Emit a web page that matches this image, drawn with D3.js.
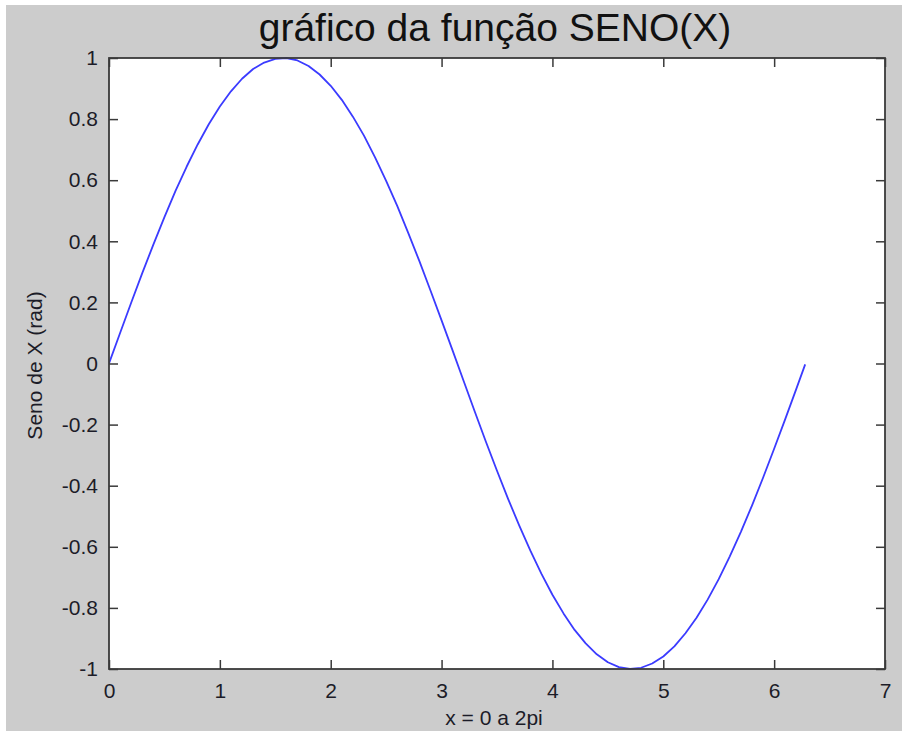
<!DOCTYPE html>
<html>
<head>
<meta charset="utf-8">
<script src="https://cdn.jsdelivr.net/npm/d3@7/dist/d3.min.js"></script>
<style>
  html, body { margin: 0; padding: 0; background: #ffffff; }
  svg { display: block; font-family: "Liberation Sans", Arial, sans-serif; }
</style>
</head>
<body>
<svg id="chart" width="902" height="731"></svg>
<script>
// sampled sine curve over [0, 2π]
const xValues = [0, 0.1, 0.2, 0.3, 0.4, 0.5, 0.6, 0.7, 0.8, 0.9, 1.0, 1.1, 1.2, 1.3, 1.4, 1.5,
                 1.6, 1.7, 1.8, 1.9, 2.0, 2.1, 2.2, 2.3, 2.4, 2.5, 2.6, 2.7, 2.8, 2.9, 3.0, 3.1,
                 3.2, 3.3, 3.4, 3.5, 3.6, 3.7, 3.8, 3.9, 4.0, 4.1, 4.2, 4.3, 4.4, 4.5, 4.6, 4.7,
                 4.8, 4.9, 5.0, 5.1, 5.2, 5.3, 5.4, 5.5, 5.6, 5.7, 5.8, 5.9, 6.0, 6.1, 6.2, 6.28];
const yValues = [0, 0.100, 0.199, 0.296, 0.389, 0.479, 0.565, 0.644, 0.717, 0.783, 0.841, 0.891,
                 0.932, 0.964, 0.985, 0.997, 1.000, 0.992, 0.974, 0.946, 0.909, 0.863, 0.808,
                 0.746, 0.675, 0.598, 0.516, 0.427, 0.335, 0.239, 0.141, 0.042, -0.058, -0.158,
                 -0.256, -0.351, -0.443, -0.530, -0.612, -0.688, -0.757, -0.818, -0.872, -0.916,
                 -0.952, -0.978, -0.994, -1.000, -0.996, -0.982, -0.959, -0.926, -0.883, -0.832,
                 -0.773, -0.706, -0.631, -0.551, -0.465, -0.374, -0.279, -0.182, -0.083, -0.003];
const xTicks = [0, 1, 2, 3, 4, 5, 6, 7];
const yTicks = [-1, -0.8, -0.6, -0.4, -0.2, 0, 0.2, 0.4, 0.6, 0.8, 1];

const titleText = "gráfico da função SENO(X)";
const xLabelText = "x = 0 a 2pi";
const yLabelText = "Seno de X (rad)";

const svg = d3.select("#chart");
const W = 902, H = 731;
const plot = { left: 109, right: 885, top: 58, bottom: 669 };

// figure background (grey panel)
svg.append("rect").attr("x", 6).attr("y", 5).attr("width", W - 6).attr("height", H - 5)
   .attr("fill", "#cccccc");

const x = d3.scaleLinear().domain([0, 7]).range([plot.left, plot.right]);
const y = d3.scaleLinear().domain([-1, 1]).range([plot.bottom, plot.top]);

// plain hyphen-minus tick labels
const fmt = d => String(d).replace("\u2212", "-");

// white axes area
svg.append("rect")
   .attr("x", plot.left).attr("y", plot.top)
   .attr("width", plot.right - plot.left).attr("height", plot.bottom - plot.top)
   .attr("fill", "#ffffff");

// data line, clipped to the axes box
svg.append("clipPath").attr("id", "clip").append("rect")
   .attr("x", plot.left).attr("y", plot.top - 1)
   .attr("width", plot.right - plot.left).attr("height", plot.bottom - plot.top + 2);

const data = xValues.map((v, i) => [v, yValues[i]]);
svg.append("path")
   .datum(data)
   .attr("clip-path", "url(#clip)")
   .attr("fill", "none")
   .attr("stroke", "#3b3bff")
   .attr("stroke-width", 1.8)
   .attr("stroke-linejoin", "round")
   .attr("d", d3.line().x(d => x(d[0])).y(d => y(d[1])));

const tickLen = 9;
const axisColor = "#3a3a3a";
const labelColor = "#1c1c28";
const tickFont = 21;

// boxed axes with inward ticks on all four sides
function styleAxis(g) {
  g.select(".domain").remove();
  g.selectAll(".tick line").attr("stroke", axisColor).attr("stroke-width", 1.5);
}

svg.append("g").attr("transform", `translate(0,${plot.bottom})`)
   .call(d3.axisBottom(x).tickValues(xTicks).tickSize(-tickLen).tickPadding(14).tickFormat(fmt))
   .call(styleAxis)
   .call(g => g.selectAll("text").attr("fill", labelColor).attr("font-size", tickFont)
                 .attr("font-family", "Liberation Sans, Arial, sans-serif"));

svg.append("g").attr("transform", `translate(0,${plot.top})`)
   .call(d3.axisTop(x).tickValues(xTicks).tickSize(-tickLen).tickFormat(""))
   .call(styleAxis);

svg.append("g").attr("transform", `translate(${plot.left},0)`)
   .call(d3.axisLeft(y).tickValues(yTicks).tickSize(-tickLen).tickPadding(11).tickFormat(fmt))
   .call(styleAxis)
   .call(g => g.selectAll("text").attr("fill", labelColor).attr("font-size", tickFont)
                 .attr("font-family", "Liberation Sans, Arial, sans-serif"));

svg.append("g").attr("transform", `translate(${plot.right},0)`)
   .call(d3.axisRight(y).tickValues(yTicks).tickSize(-tickLen).tickFormat(""))
   .call(styleAxis);

// axes box
svg.append("rect")
   .attr("x", plot.left).attr("y", plot.top)
   .attr("width", plot.right - plot.left).attr("height", plot.bottom - plot.top)
   .attr("fill", "none").attr("stroke", axisColor).attr("stroke-width", 1.8);

// title and axis labels
svg.append("text")
   .attr("x", (plot.left + plot.right) / 2 - 2).attr("y", 41)
   .attr("text-anchor", "middle").attr("font-size", 39).attr("fill", "#111111")
   .text(titleText);

svg.append("text")
   .attr("x", (plot.left + plot.right) / 2 - 3).attr("y", 725)
   .attr("text-anchor", "middle").attr("font-size", 21).attr("fill", labelColor)
   .text(xLabelText);

svg.append("text")
   .attr("transform", `translate(42,${(plot.top + plot.bottom) / 2 + 2}) rotate(-90)`)
   .attr("text-anchor", "middle").attr("font-size", 21).attr("fill", labelColor)
   .text(yLabelText);
</script>
</body>
</html>
